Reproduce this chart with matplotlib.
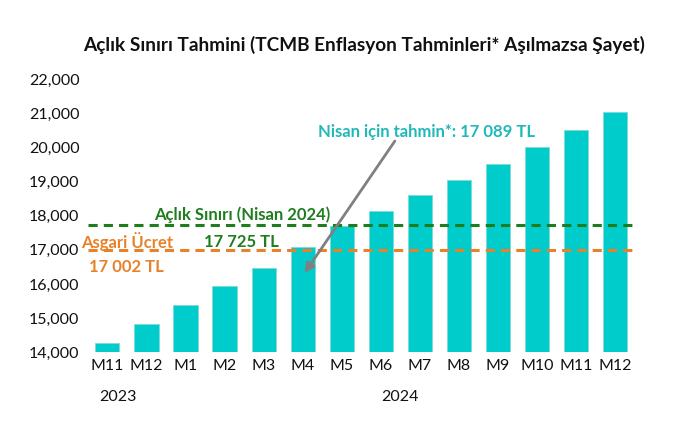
import matplotlib
matplotlib.use('Agg')
import matplotlib.pyplot as plt

months = ['M11', 'M12', 'M1', 'M2', 'M3', 'M4', 'M5', 'M6', 'M7', 'M8', 'M9', 'M10', 'M11', 'M12']
years = ['2023', '2024']
values = [14250, 14830, 15370, 15930, 16480, 17089, 17690, 18140, 18600, 19060, 19530, 20030, 20530, 21060]
hunger_line = 17725
min_wage = 17002
yticks = [14000, 15000, 16000, 17000, 18000, 19000, 20000, 21000, 22000]

bar_color = '#00CCCC'
green = '#1E7E1E'
orange = '#E8822A'
teal = '#22B8B8'

plt.rcParams['font.family'] = ['Lato', 'DejaVu Sans']

fig = plt.figure(figsize=(6.81, 4.41), dpi=100)
ax = fig.add_axes([0.129, 0.202, 0.803, 0.617])

x = list(range(len(months)))
ax.bar(x, values, width=0.62, color=bar_color, edgecolor='#7FD8D8', linewidth=0.6)

ax.axhline(hunger_line, color=green, linestyle=(0, (3, 2)), linewidth=2.2)
ax.axhline(min_wage, color=orange, linestyle=(0, (3, 2)), linewidth=2.2)

ax.set_xlim(-0.5, len(months) - 0.5)
ax.set_ylim(14000, 22000)
ax.set_yticks(yticks)
ax.set_yticklabels(['{:,}'.format(v) for v in yticks])
ax.set_xticks(x)
ax.set_xticklabels(months)
ax.tick_params(axis='both', length=0, labelsize=11.5, colors='#111111')
ax.tick_params(axis='y', pad=6)
ax.tick_params(axis='x', pad=5)
for s in ax.spines.values():
    s.set_visible(False)

# year labels under month labels
ax.text(0.28, -0.165, years[0], transform=ax.get_xaxis_transform(), ha='center', va='center', fontsize=11.5, color='#111111')
ax.text(7.5, -0.165, years[1], transform=ax.get_xaxis_transform(), ha='center', va='center', fontsize=11.5, color='#111111')

fig.text(0.535, 0.898, 'Açlık Sınırı Tahmini (TCMB Enflasyon Tahminleri* Aşılmazsa Şayet)',
         ha='center', va='center', fontsize=13.7, fontweight='bold', color='#111111')

ax.text(3.44, 18030, 'Açlık Sınırı (Nisan 2024)', ha='center', va='center', fontsize=12, fontweight='bold', color=green)
ax.text(3.44, 17235, '{:,} TL'.format(hunger_line).replace(',', ' '), ha='center', va='center', fontsize=12, fontweight='bold', color=green)
ax.text(0.51, 17235, 'Asgari Ücret', ha='center', va='center', fontsize=12, fontweight='bold', color=orange, clip_on=False)
ax.text(0.49, 16500, '{:,} TL'.format(min_wage).replace(',', ' '), ha='center', va='center', fontsize=12, fontweight='bold', color=orange)
ax.text(8.18, 20470, 'Nisan için tahmin*: {:,} TL'.format(values[5]).replace(',', ' '),
        ha='center', va='center', fontsize=12, fontweight='bold', color=teal)

ax.annotate('', xy=(5.05, 16320), xytext=(7.36, 20200),
            arrowprops=dict(arrowstyle='-|>', color='#808080', lw=2, mutation_scale=14, shrinkA=0, shrinkB=0))

fig.savefig('out.png', dpi=100)
